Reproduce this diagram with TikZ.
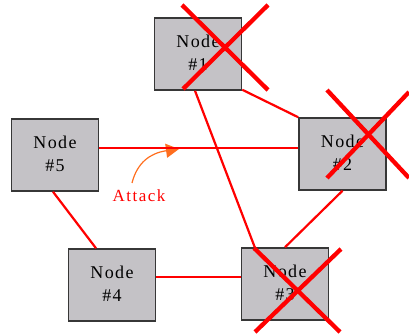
\documentclass[tikz,border=0pt]{standalone}
\usepackage{fontspec}
\setmainfont{Liberation Serif}
\newfontfamily\nodefont[LetterSpace=8]{Liberation Serif}
\usetikzlibrary{arrows.meta}
\definecolor{boxgray}{RGB}{196,194,198}
\definecolor{boxborder}{RGB}{55,55,55}
\definecolor{attackorange}{RGB}{255,110,30}
\newcommand{\nlab}[1]{\raisebox{4pt}{\begin{tabular}{@{}c@{}}Node\\#1\end{tabular}}}
\tikzset{
  netnode/.style={draw=boxborder, line width=1.5pt, fill=boxgray, minimum width=87pt, minimum height=72pt, inner sep=0pt, font=\nodefont\fontsize{18}{23}\selectfont},
  link/.style={draw=red, line width=2.2pt},
  crossline/.style={draw=red, line width=4.3pt},
}
\begin{document}
\begin{tikzpicture}[x=1pt,y=-1pt]
\useasboundingbox (0,0) rectangle (409,336);
\node[netnode] (n1) at (198,54) {\nlab{\#1}};
\node[netnode] (n2) at (342.5,154) {\nlab{\#2}};
\node[netnode] (n3) at (285,284) {\nlab{\#3}};
\node[netnode] (n4) at (112,285) {\nlab{\#4}};
\node[netnode] (n5) at (55,155) {\nlab{\#5}};
% attack (drawn beneath the link)
\coordinate (atip) at (179,149);
\node[text=red, font=\fontsize{17}{19}\selectfont\addfontfeature{LetterSpace=9}] (atk) at (139,196) {Attack};
\draw[attackorange, line width=1.2pt, -{Triangle[length=13pt,width=14pt]}] (132,183) .. controls (137,163) and (150,153) .. (atip);
% links
\draw[link] ([yshift=7pt]n5.east) -- ([yshift=6pt]n2.west);
\draw[link] ([yshift=1pt]n1.south east) -- (n2.north west);
\draw[link] ([xshift=-3pt]n1.south) -- ([xshift=14pt]n3.north west);
\draw[link] (n2.south) -- (n3.north);
\draw[link] ([xshift=-2pt]n5.south) -- ([xshift=-16pt]n4.north);
\draw[link] ([yshift=8pt]n4.east) -- ([yshift=7pt]n3.west);
% crosses
\draw[crossline] (182,5) -- (268,90);
\draw[crossline] (183,89) -- (268,5);
\draw[crossline] (327,90) -- (409,178);
\draw[crossline] (327,178) -- (409,92);
\draw[crossline] (254,248) -- (340,332);
\draw[crossline] (255,332) -- (341,249);
\end{tikzpicture}
\end{document}
